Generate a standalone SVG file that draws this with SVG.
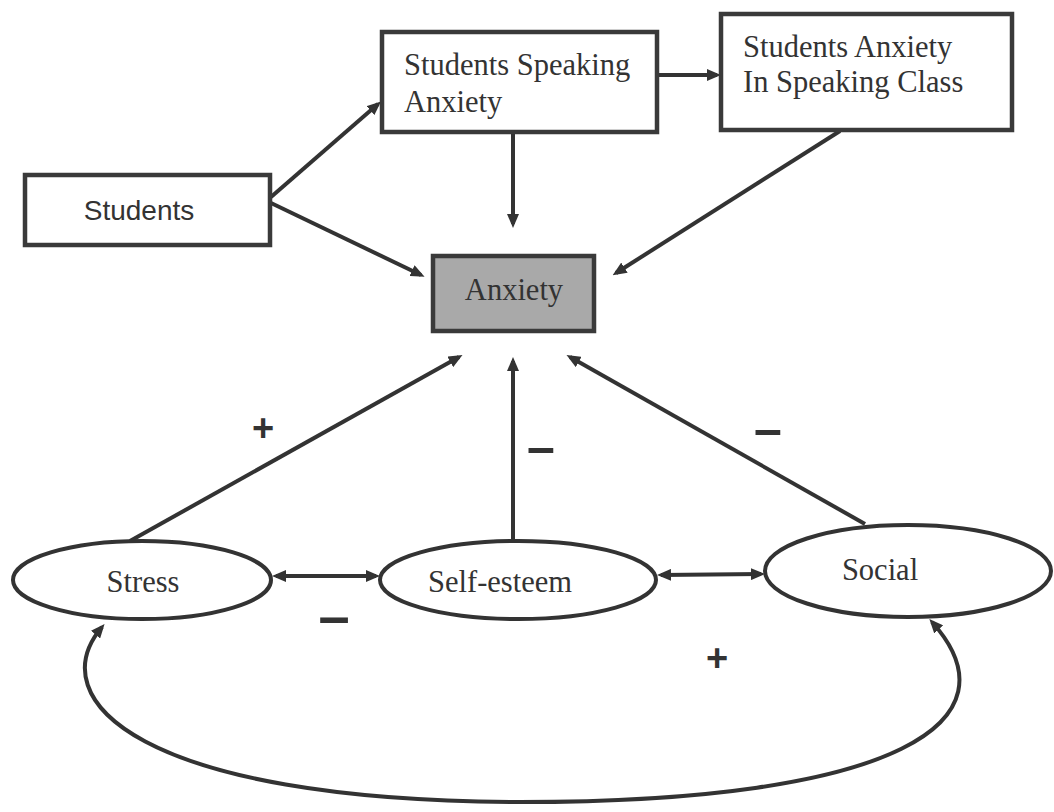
<svg xmlns="http://www.w3.org/2000/svg" width="1054" height="812" viewBox="0 0 1054 812">
<style>
.box{fill:#fff;stroke:#3a3a3a;stroke-width:4.5}
.grey{fill:#a9a9a9;stroke:#3a3a3a;stroke-width:4.5}
.ell{fill:#fff;stroke:#333;stroke-width:4}
.serif{font-family:"Liberation Serif","Times New Roman",serif;font-size:30.5px;fill:#333}
.sans{font-family:"Liberation Sans",Arial,sans-serif;font-size:28px;fill:#333}
.conn{fill:none;stroke:#333;stroke-width:4}
.sign{font-family:"Liberation Sans",Arial,sans-serif;font-weight:bold;fill:#333;text-anchor:middle}
</style>
<defs>
<marker id="ah" viewBox="0 0 14 12" refX="10" refY="6" markerWidth="14" markerHeight="12" markerUnits="userSpaceOnUse" orient="auto-start-reverse">
<path d="M0,0 L14,6 L0,12 z" fill="#333"/>
</marker>
</defs>
<rect width="1054" height="812" fill="#fff"/>
<g id="connectors">
<line class="conn" x1="271" y1="197" x2="378" y2="104" marker-end="url(#ah)"/>
<line class="conn" x1="271" y1="203" x2="421" y2="275" marker-end="url(#ah)"/>
<line class="conn" x1="513" y1="133" x2="513" y2="224" marker-end="url(#ah)"/>
<line class="conn" x1="657" y1="75" x2="717" y2="75" marker-end="url(#ah)"/>
<line class="conn" x1="840" y1="131" x2="616" y2="273" marker-end="url(#ah)"/>
<line class="conn" x1="130" y1="541" x2="459" y2="357" marker-end="url(#ah)"/>
<line class="conn" x1="513" y1="541" x2="513" y2="361" marker-end="url(#ah)"/>
<line class="conn" x1="865" y1="524" x2="570" y2="357" marker-end="url(#ah)"/>
<line class="conn" x1="276" y1="576" x2="376" y2="576" marker-start="url(#ah)" marker-end="url(#ah)"/>
<line class="conn" x1="661" y1="575" x2="761" y2="574" marker-start="url(#ah)" marker-end="url(#ah)"/>
<path class="conn" d="M102,627 C40,700 140,801 520,802 C900,802 1020,720 932,622" marker-start="url(#ah)" marker-end="url(#ah)"/>
</g>
<g id="students">
<rect class="box" x="25" y="175" width="245" height="70"/>
<text class="sans" x="139" y="220" text-anchor="middle">Students</text>
</g>
<g id="speaking-anxiety">
<rect class="box" x="382" y="32" width="275" height="100"/>
<text class="serif" x="404" y="75">Students Speaking</text>
<text class="serif" x="404" y="112">Anxiety</text>
</g>
<g id="class-anxiety">
<rect class="box" x="721" y="14" width="291" height="116"/>
<text class="serif" x="743" y="57">Students Anxiety</text>
<text class="serif" x="743" y="92">In Speaking Class</text>
</g>
<g id="anxiety">
<rect class="grey" x="433" y="256" width="161" height="75"/>
<text class="serif" x="514" y="300" text-anchor="middle">Anxiety</text>
</g>
<g id="stress">
<ellipse class="ell" cx="142" cy="580" rx="129" ry="39"/>
<text class="serif" x="143" y="592" text-anchor="middle">Stress</text>
</g>
<g id="self-esteem">
<ellipse class="ell" cx="518" cy="580" rx="138" ry="39"/>
<text class="serif" x="500" y="592" text-anchor="middle">Self-esteem</text>
</g>
<g id="social">
<ellipse class="ell" cx="908" cy="571" rx="143" ry="46"/>
<text class="serif" x="880" y="580" text-anchor="middle">Social</text>
</g>
<g id="signs">
<text class="sign" x="263" y="441" font-size="38">+</text>
<text class="sign" x="541" y="464" font-size="50">–</text>
<text class="sign" x="768" y="446" font-size="50">–</text>
<text class="sign" x="334" y="635" font-size="56">–</text>
<text class="sign" x="717" y="671" font-size="38">+</text>
</g>
</svg>
